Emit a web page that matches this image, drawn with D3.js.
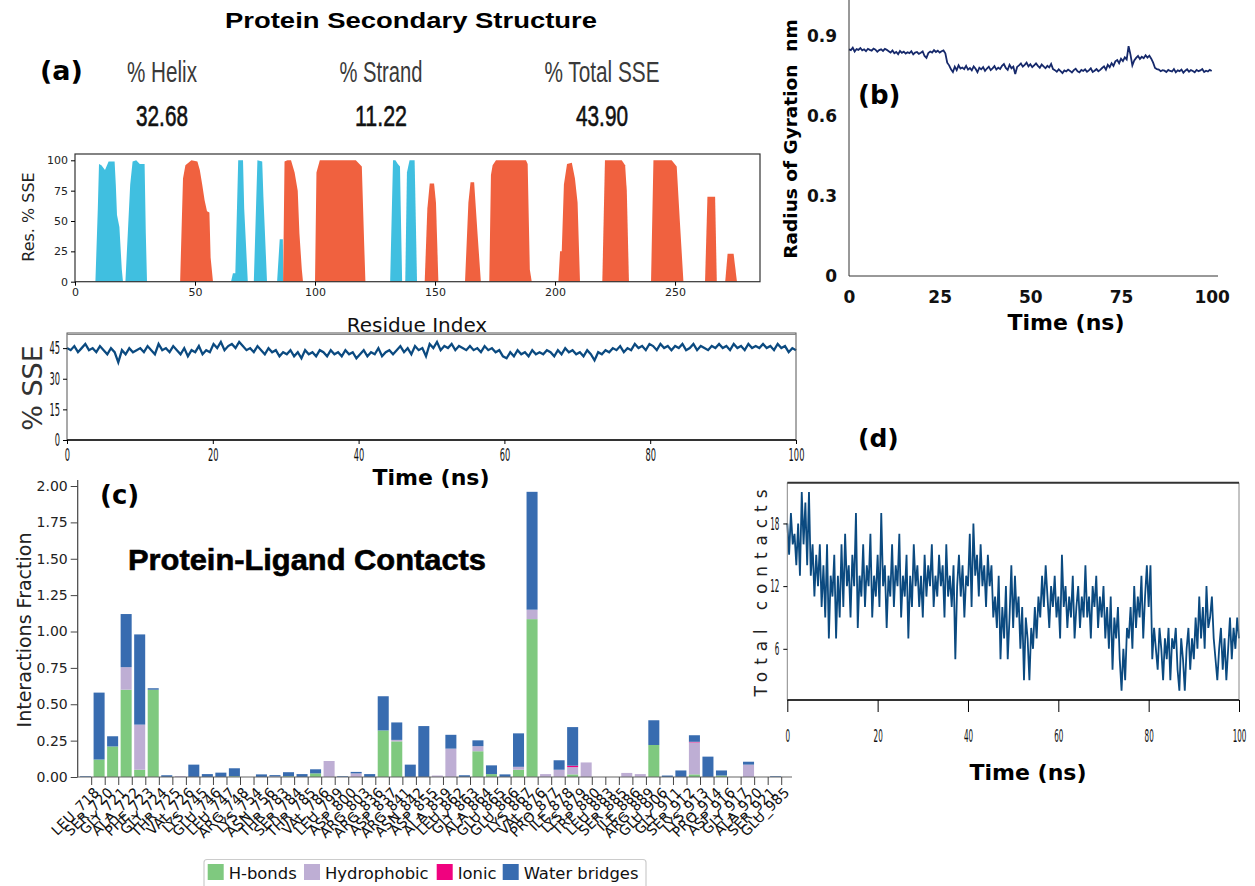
<!DOCTYPE html>
<html>
<head>
<meta charset="utf-8">
<script src="https://cdn.jsdelivr.net/npm/d3@7"></script>
<style>
body { margin: 0; background: #fff; }
svg { display: block; }
text { font-family: "DejaVu Sans", sans-serif; }
</style>
</head>
<body>
<svg id="fig" width="1255" height="886"></svg>
<script>
// ---------- data ----------
const headLabels = ["% Helix", "% Strand", "% Total SSE"];
const headValues = ["32.68", "11.22", "43.90"];

// per residue SSE profiles, [residue index, % SSE]
const strandSegs = [
  [[8.5,0],[9.5,60],[10,97],[11,96],[12.5,92],[14,99],[16.5,99],[17,80],[17.5,55],[18.5,45],[19.5,10],[20,0]],
  [[21,0],[22,40],[23,80],[24,99],[25.5,100],[27,97],[29,97],[29.5,40],[30,0]],
  [[65,0],[65.8,7],[66.8,7],[68,100],[70,100],[70.5,60],[72,0]],
  [[74.5,0],[76,100],[78,99],[78.5,70],[80,0]],
  [[84.2,0],[85.3,35],[86.6,35],[86.8,0]],
  [[131.3,0],[132.5,100],[133.5,100],[134.5,97],[135.4,95],[136.3,0]],
  [[137.6,0],[138.3,90],[139.4,100],[141.5,100],[142.5,0]]
];
const helixSegs = [
  [[43.8,0],[44.5,50],[45,85],[46,96],[48.5,100],[51,99],[52,92],[53,80],[54,67],[55,58],[56,57],[56.5,20],[57.5,0]],
  [[86.7,0],[87.3,99],[88.5,100],[90,100],[91.5,90],[92.8,75],[93.5,40],[94.5,10],[95,0]],
  [[100,0],[100.6,90],[102,100],[117,100],[118.5,97],[119.5,95],[120.5,30],[121,0]],
  [[145.7,0],[146.8,60],[147.8,81],[149.6,81],[150.4,65],[151.4,0]],
  [[162.5,0],[163.9,65],[164.8,82],[166.3,82],[167.7,40],[169.1,0]],
  [[172.6,0],[173.3,88],[174,96],[175.4,100],[187.9,100],[188.6,97],[189.5,10],[190.3,0]],
  [[201.4,0],[202.1,25],[202.8,25],[203.7,80],[205,97],[207,98],[208.3,85],[209.4,65],[210.4,0]],
  [[219.7,0],[220.8,100],[227.8,100],[229.2,96],[229.9,75],[230.8,0]],
  [[240,0],[241,100],[248.6,100],[250.7,95],[252,50],[253.5,0]],
  [[262.5,0],[263.5,70],[266.7,70],[267.4,0]],
  [[270.9,0],[271.9,23],[274.4,23],[275.8,0]]
];

// % SSE over time (0-100 ns)
const sseTime = [
  45,44,46,43,45,47,44,45,43,46, 44,42,45,43,38,44,42,45,43,44,
  45,43,46,44,42,47,44,45,43,46, 44,42,45,41,44,43,46,42,44,43,
  47,45,48,44,46,47,45,48,46,44, 45,43,46,44,42,45,43,44,41,43,
  42,44,41,43,40,44,42,43,41,44, 43,41,44,42,43,41,44,42,43,40,
  42,44,41,43,42,45,41,43,44,42, 44,46,43,45,42,46,44,45,41,47,
  45,48,44,46,45,47,44,46,45,44, 46,44,45,43,46,44,45,43,44,41,
  40,43,41,44,42,43,41,44,42,43, 42,44,43,41,44,42,45,43,44,42,
  43,41,44,42,39,43,42,44,43,45, 44,46,43,45,44,47,45,46,44,47,
  46,44,47,45,46,44,46,45,47,44, 45,47,44,46,45,44,46,45,47,45,
  46,44,47,45,46,44,47,45,46,45, 47,45,46,44,47,45,46,43,45,44
];

// radius of gyration (nm) over 0-100 ns
const rgValues = [
  0.85,0.847,0.856,0.842,0.851,0.848,0.855,0.846,0.85,0.843,0.852,0.848,0.845,0.853,0.849,0.841,0.847,0.85,0.844,0.852,0.848,
  0.843,0.838,0.846,0.835,0.84,0.832,0.844,0.837,0.841,0.834,0.839,0.836,0.843,0.831,0.838,0.84,0.833,0.837,0.842,
  0.825,0.818,0.836,0.842,0.838,0.847,0.84,0.845,0.838,0.843,
  0.846,0.835,0.8,0.79,0.775,0.765,0.785,0.772,0.79,0.778,
  0.782,0.776,0.788,0.774,0.78,0.771,0.786,0.777,0.764,0.781,0.775,0.783,0.769,0.778,0.785,
  0.772,0.779,0.787,0.774,0.781,0.776,0.788,0.795,0.78,0.773,0.792,0.779,0.785,0.757,0.784,
  0.79,0.797,0.785,0.792,0.8,0.786,0.794,0.783,0.79,0.797,0.788,0.781,0.793,0.786,0.779,0.788,0.782,0.795,0.776,
  0.772,0.766,0.775,0.768,0.761,0.771,0.767,0.774,0.769,0.763,0.772,0.777,0.768,0.764,0.773,0.769,0.775,0.766,0.771,0.779,0.765,0.77,0.776,0.768,0.773,
  0.78,0.786,0.774,0.792,0.783,0.798,0.788,
  0.805,0.81,0.798,0.815,0.806,0.82,0.812,0.862,0.83,
  0.79,0.808,
  0.818,0.825,0.814,0.822,0.817,0.828,0.819,0.826,0.815,
  0.8,0.78,0.776,
  0.774,0.768,0.772,0.77,0.765,0.773,0.769,0.767,0.776,0.764,0.771,0.768,0.774,0.762,0.77,
  0.775,0.766,0.772,0.769,0.764,0.773,0.768,0.771,0.776,0.765,0.77,0.767,0.773,0.769
];

// protein-ligand contacts per residue
const residues = ["LEU_718","SER_720","GLY_721","ALA_722","PHE_723","GLY_724","THR_725","VAL_726",
  "LYS_745","GLU_746","LEU_747","ARG_748","LYS_754","ASN_756","THR_783","SER_784","THR_785","VAL_786",
  "LEU_799","ASP_800","ARG_803","ARG_836","ASP_837","ARG_841","ASN_842","ASP_855","ALA_859","LEU_862",
  "GLY_863","ALA_864","GLU_865","GLU_866","LYS_867","VAL_876","PRO_877","ILE_878","LYS_879","TRP_880",
  "LEU_883","SER_885","ILE_886","ARG_889","GLU_906","GLY_911","SER_912","LYS_913","PRO_914","ASP_916",
  "GLY_917","ALA_920","SER_921","GLU_985"];
const hBonds = [0,0.12,0.21,0.60,0.05,0.60,0,0, 0,0,0,0.005,0,0,0,0.005,0,0.025,
  0,0,0,0,0.32,0.245,0,0,0,0, 0,0.177,0.02,0,0.05,1.085,0,0,0.018,0,
  0,0,0,0,0.22,0,0,0.018,0,0.01, 0,0,0,0];
const hydrophobic = [0,0,0,0.155,0.31,0,0,0.006, 0,0,0,0,0,0,0.003,0,0,0,
  0.11,0,0.025,0,0,0.01,0,0,0.01,0.195, 0,0.035,0,0,0.02,0.065,0.02,0.05,0.05,0.1,
  0,0,0.028,0.02,0,0,0,0.22,0,0, 0,0.085,0,0];
const ionic = [0,0,0,0,0,0,0,0, 0,0,0,0,0,0,0,0,0,0,
  0,0,0,0,0,0,0,0,0,0, 0,0,0,0,0,0,0,0,0.01,0,
  0,0,0,0,0,0,0,0.004,0,0, 0,0,0,0];
const waterBridges = [0.005,0.46,0.07,0.365,0.62,0.01,0.012,0, 0.085,0.02,0.03,0.055,0,0.018,0.01,0.028,0.02,0.028,
  0,0.005,0.01,0.02,0.235,0.12,0.085,0.35,0,0.095, 0.012,0.04,0.06,0.018,0.23,0.81,0,0.065,0.265,0,
  0,0,0,0,0.17,0.01,0.045,0.045,0.14,0.035, 0,0.02,0,0.005];
const contactTypes = ["H-bonds", "Hydrophobic", "Ionic", "Water bridges"];

// total contacts over 0-100 ns
const totalContacts = [
  18,15,19,16,17, 14,18,13,21,16, 20,14,21,13,16, 11,15,12,16,10, 14,9,16,7,13,
  11,15,7,13,9, 16,10,17,12,14, 9,15,12,19,8, 13,11,16,10,14, 12,17,9,13,11,
  15,10,19,12,14, 8,13,11,16,10, 14,12,17,9,13, 11,15,7,13,10, 16,12,14,10,13,
  9,15,11,14,12, 16,10,13,11,15, 12,14,9,16,11, 13,10,14,5,12, 15,11,14,9,13,
  12,17,10,18,13, 15,11,16,12,14, 10,15,12,14,9, 11,8,13,5,10, 7,12,5,9,14,
  8,13,9,11,6, 10,3,9,7,3, 8,6,10,7,11, 9,13,10,14,11, 8,12,10,13,9,
  11,7,15,10,12, 8,11,9,13,7, 10,12,8,11,9, 14,9,11,7,12, 10,13,8,11,9,
  12,7,10,6,11, 4,9,7,10,5, 2,6,3,8,7, 10,6,12,8,11, 9,13,7,11,14,
  10,14,5,8,6, 4,8,6,3,7, 5,8,3,7,6, 8,4,2,7,5, 2,6,8,4,7,
  5,9,6,11,7, 10,6,12,8,9, 11,7,5,3,6, 8,4,7,3,6, 9,5,8,6,9, 7
];

// ---------- styles ----------
const C_HELIX = "#f0613f", C_STRAND = "#40bfe0", C_LINE = "#0b4a80", C_RG = "#16296b";
const barColors = ["#7fc97f", "#beaed4", "#f0027f", "#386cb0"];

const svg = d3.select("#fig");

// narrow tick labels: squeeze horizontally around the tick
function condense(g, k) {
  g.selectAll(".tick text").each(function() {
    const t = d3.select(this);
    const x = +t.attr("x") || 0;
    t.attr("x", x / k).attr("transform", `scale(${k},1)`);
  });
}

// ---------- (a) header ----------
svg.append("text").attr("x", 411).attr("y", 28).attr("text-anchor", "middle")
  .style("font-family", "Liberation Sans, Arial, sans-serif").attr("font-weight", "bold")
  .attr("font-size", 22).attr("textLength", 372).attr("lengthAdjust", "spacingAndGlyphs")
  .text("Protein Secondary Structure");
svg.append("text").attr("x", 40).attr("y", 80).attr("font-weight", "bold").attr("font-size", 27).text("(a)");

const headX = [162, 381, 602];
const headW = [70, 83, 115];
headLabels.forEach((l, i) => {
  svg.append("text").attr("x", headX[i]).attr("y", 82).attr("text-anchor", "middle")
    .style("font-family", "Liberation Sans, Arial, sans-serif").attr("font-size", 30).attr("fill", "#3a3a3a")
    .attr("textLength", headW[i]).attr("lengthAdjust", "spacingAndGlyphs").text(l);
  svg.append("text").attr("x", headX[i]).attr("y", 126).attr("text-anchor", "middle")
    .style("font-family", "Liberation Sans, Arial, sans-serif").attr("font-size", 30).attr("fill", "#111")
    .attr("stroke", "#111").attr("stroke-width", 0.6)
    .attr("textLength", 52).attr("lengthAdjust", "spacingAndGlyphs").text(headValues[i]);
});

// residue SSE plot
const xr = d3.scaleLinear().domain([0, 285.4]).range([75, 760]);
const yr = d3.scaleLinear().domain([0, 105.2]).range([281.7, 154]);
const area = d3.area().x(d => xr(d[0])).y0(yr(0)).y1(d => yr(d[1]));
const gRes = svg.append("g");
strandSegs.forEach(s => gRes.append("path").attr("d", area(s)).attr("fill", C_STRAND));
helixSegs.forEach(s => gRes.append("path").attr("d", area(s)).attr("fill", C_HELIX));
gRes.append("rect").attr("x", 75).attr("y", 154).attr("width", 685).attr("height", 127.7)
  .attr("fill", "none").attr("stroke", "#333").attr("stroke-width", 1.2);
const axR1 = gRes.append("g").attr("transform", "translate(0,281.7)")
  .call(d3.axisBottom(xr).tickValues([0, 50, 100, 150, 200, 250]).tickSize(4).tickPadding(3));
const axR2 = gRes.append("g").attr("transform", "translate(75,0)")
  .call(d3.axisLeft(yr).tickValues([0, 25, 50, 75, 100]).tickSize(4).tickPadding(3));
[axR1, axR2].forEach(a => { a.select(".domain").remove(); a.selectAll("text").attr("font-size", 11).attr("fill", "#222"); });
gRes.append("text").attr("transform", "translate(34,217) rotate(-90)").attr("text-anchor", "middle")
  .attr("font-size", 16).attr("fill", "#222").text("Res. % SSE");
gRes.append("text").attr("x", 417).attr("y", 332).attr("text-anchor", "middle")
  .attr("font-size", 20).attr("fill", "#111").text("Residue Index");

// % SSE vs time
const xs = d3.scaleLinear().domain([0, 100]).range([67, 796]);
const ys = d3.scaleLinear().domain([0, 52.4]).range([440, 333]);
const gS = svg.append("g");
gS.append("path").datum(sseTime)
  .attr("d", d3.line().x((d, i) => xs(i * 100 / (sseTime.length - 1))).y(d => ys(d)))
  .attr("fill", "none").attr("stroke", C_LINE).attr("stroke-width", 2.3);
gS.append("rect").attr("x", 67).attr("y", 333).attr("width", 729).attr("height", 107)
  .attr("fill", "none").attr("stroke", "#555").attr("stroke-width", 1);
gS.append("line").attr("x1", 67).attr("x2", 796).attr("y1", 440).attr("y2", 440).attr("stroke", "#333").attr("stroke-width", 2);
gS.append("line").attr("x1", 67).attr("x2", 796).attr("y1", 334.5).attr("y2", 334.5).attr("stroke", "#888").attr("stroke-width", 1);
const axS1 = gS.append("g").attr("transform", "translate(0,440)")
  .call(d3.axisBottom(xs).tickValues([0, 20, 40, 60, 80, 100]).tickSize(4).tickPadding(4));
const axS2 = gS.append("g").attr("transform", "translate(67,0)")
  .call(d3.axisLeft(ys).tickValues([0, 15, 30, 45]).tickSize(4).tickPadding(3));
[axS1, axS2].forEach(a => { a.select(".domain").remove(); a.selectAll("text").attr("font-size", 18).attr("fill", "#111"); condense(a, 0.46); });
gS.append("text").attr("transform", "translate(42,388) rotate(-90)").attr("text-anchor", "middle")
  .attr("font-size", 27).attr("fill", "#333").text("% SSE");
gS.append("text").attr("x", 431).attr("y", 485).attr("text-anchor", "middle")
  .attr("font-weight", "bold").attr("font-size", 22).text("Time (ns)");

// ---------- (b) radius of gyration ----------
const xb = d3.scaleLinear().domain([0, 100]).range([849, 1211.7]);
const yb = d3.scaleLinear().domain([0, 0.9]).range([276, 36]);
const gB = svg.append("g");
gB.append("path").datum(rgValues)
  .attr("d", d3.line().x((d, i) => xb(i * 100 / (rgValues.length - 1))).y(d => yb(d)))
  .attr("fill", "none").attr("stroke", C_RG).attr("stroke-width", 1.8);
gB.append("line").attr("x1", 849).attr("x2", 849).attr("y1", 0).attr("y2", 276).attr("stroke", "#333");
gB.append("line").attr("x1", 849).attr("x2", 1218).attr("y1", 276).attr("y2", 276).attr("stroke", "#333");
const axB1 = gB.append("g").attr("transform", "translate(0,276)")
  .call(d3.axisBottom(xb).tickValues([0, 25, 50, 75, 100]).tickSize(0).tickPadding(15));
const axB2 = gB.append("g").attr("transform", "translate(849,0)")
  .call(d3.axisLeft(yb).tickValues([0, 0.3, 0.6, 0.9]).tickFormat(d => d === 0 ? "0" : d3.format(".1f")(d)).tickSize(0).tickPadding(12));
[axB1, axB2].forEach(a => { a.select(".domain").remove(); a.selectAll("text").attr("font-size", 17).attr("font-weight", "bold").attr("fill", "#111"); });
gB.append("text").attr("transform", "translate(797,139) rotate(-90)").attr("text-anchor", "middle")
  .attr("font-weight", "bold").attr("font-size", 18.5).attr("xml:space", "preserve").text("Radius of Gyration  nm");
gB.append("text").attr("x", 1066).attr("y", 330).attr("text-anchor", "middle")
  .attr("font-weight", "bold").attr("font-size", 22).text("Time (ns)");
gB.append("text").attr("x", 858).attr("y", 104).attr("font-weight", "bold").attr("font-size", 26).text("(b)");

// ---------- (c) protein-ligand contacts ----------
const xc = d3.scaleBand().domain(residues).range([78.8, 78.8 + 52 * 13.53]).paddingInner(0.185).paddingOuter(0.0925);
const yc = d3.scaleLinear().domain([0, 2]).range([777, 486]);
const rows = residues.map((r, i) => ({ res: r, "H-bonds": hBonds[i], "Hydrophobic": hydrophobic[i], "Ionic": ionic[i], "Water bridges": waterBridges[i] }));
const stacked = d3.stack().keys(contactTypes)(rows);
const gC = svg.append("g");
gC.selectAll("g.layer").data(stacked).join("g").attr("class", "layer")
  .attr("fill", (d, i) => barColors[i])
  .selectAll("rect").data(d => d).join("rect")
  .attr("x", d => xc(d.data.res)).attr("width", xc.bandwidth())
  .attr("y", d => yc(d[1])).attr("height", d => Math.max(0, yc(d[0]) - yc(d[1])));
gC.append("line").attr("x1", 77.7).attr("x2", 77.7).attr("y1", 480).attr("y2", 777).attr("stroke", "#444").attr("stroke-width", 1.2);
gC.append("line").attr("x1", 77.7).attr("x2", 792).attr("y1", 777).attr("y2", 777).attr("stroke", "#666").attr("stroke-width", 1.2);
const axC2 = gC.append("g").attr("transform", "translate(77.7,0)")
  .call(d3.axisLeft(yc).tickValues([0, 0.25, 0.5, 0.75, 1, 1.25, 1.5, 1.75, 2]).tickFormat(d3.format(".2f")).tickSize(7).tickPadding(3));
axC2.select(".domain").remove();
axC2.selectAll("text").attr("font-size", 14).attr("fill", "#222");
axC2.selectAll("line").attr("stroke", "#444");
const tk = gC.append("g").selectAll("g").data(residues).join("g")
  .attr("transform", d => `translate(${xc(d) + xc.bandwidth() + 0.6},777)`);
tk.append("line").attr("y2", 8).attr("stroke", "#444");
tk.append("text").attr("transform", "translate(5,13) rotate(-45)").attr("text-anchor", "end")
  .attr("dy", "0.35em").attr("font-size", 14).attr("fill", "#111").text(d => d);
gC.append("text").attr("transform", "translate(31,630) rotate(-90)").attr("text-anchor", "middle")
  .attr("font-size", 19).attr("fill", "#222").text("Interactions Fraction");
gC.append("text").attr("x", 100).attr("y", 504).attr("font-weight", "bold").attr("font-size", 26).text("(c)");
gC.append("text").attr("x", 128).attr("y", 570)
  .style("font-family", "Liberation Sans, Arial, sans-serif").attr("font-weight", "bold").attr("font-size", 29)
  .attr("stroke", "#000").attr("stroke-width", 0.6).attr("textLength", 358).attr("lengthAdjust", "spacingAndGlyphs")
  .text("Protein-Ligand Contacts");

// legend
const gL = svg.append("g");
gL.append("rect").attr("x", 204).attr("y", 859.5).attr("width", 442).attr("height", 32).attr("rx", 3)
  .attr("fill", "#fff").attr("stroke", "#ccc").attr("stroke-width", 1.2);
const legX = [207.7, 304, 436.7, 502.7];
contactTypes.forEach((k, i) => {
  gL.append("rect").attr("x", legX[i]).attr("y", 864).attr("width", 16).attr("height", 16).attr("fill", barColors[i]);
  gL.append("text").attr("x", legX[i] + 21).attr("y", 878.5).attr("font-size", 16.4).attr("fill", "#111").text(k);
});

// ---------- (d) total contacts ----------
const xd = d3.scaleLinear().domain([0, 100]).range([787.3, 1239]);
const yd = d3.scaleLinear().domain([1.1, 21.9]).range([700, 482.7]);
const gD = svg.append("g");
gD.append("path").datum(totalContacts)
  .attr("d", d3.line().x((d, i) => xd(i * 100 / (totalContacts.length - 1))).y(d => yd(d)))
  .attr("fill", "none").attr("stroke", C_LINE).attr("stroke-width", 1.8);
gD.append("line").attr("x1", 787.3).attr("x2", 787.3).attr("y1", 482.7).attr("y2", 700).attr("stroke", "#888");
gD.append("line").attr("x1", 1239).attr("x2", 1239).attr("y1", 482.7).attr("y2", 700).attr("stroke", "#888");
gD.append("line").attr("x1", 787.3).attr("x2", 1239).attr("y1", 482.7).attr("y2", 482.7).attr("stroke", "#333").attr("stroke-width", 2);
gD.append("line").attr("x1", 787.3).attr("x2", 1239).attr("y1", 700).attr("y2", 700).attr("stroke", "#333").attr("stroke-width", 2.2);
const axD1 = gD.append("g").attr("transform", "translate(0,700)")
  .call(d3.axisBottom(xd).tickValues([0, 20, 40, 60, 80, 100]).tickSize(12).tickPadding(17));
const axD2 = gD.append("g").attr("transform", "translate(787.3,0)")
  .call(d3.axisLeft(yd).tickValues([6, 12, 18]).tickSize(4).tickPadding(4));
[axD1, axD2].forEach(a => { a.select(".domain").remove(); a.selectAll("text").attr("font-size", 18).attr("fill", "#111"); condense(a, 0.4); });
gD.append("text").attr("transform", "translate(767,593) rotate(-90)").attr("text-anchor", "middle")
  .attr("font-size", 17).attr("fill", "#222").attr("textLength", 207).attr("lengthAdjust", "spacing").text("Total contacts");
gD.append("text").attr("x", 1028).attr("y", 780).attr("text-anchor", "middle")
  .attr("font-weight", "bold").attr("font-size", 22).text("Time (ns)");
gD.append("text").attr("x", 858).attr("y", 447).attr("font-weight", "bold").attr("font-size", 25).text("(d)");
</script>
</body>
</html>
